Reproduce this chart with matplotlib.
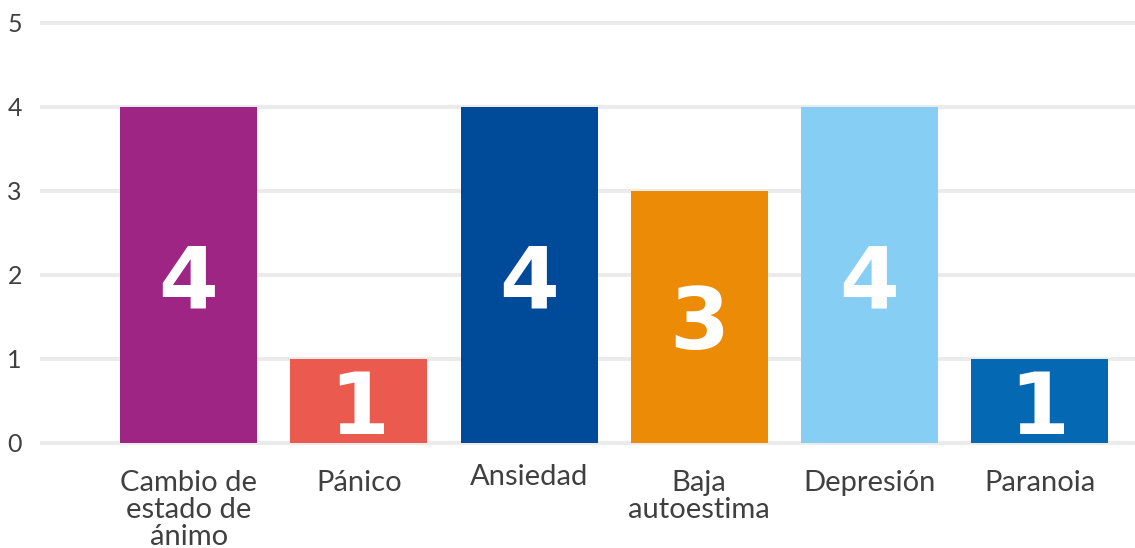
import matplotlib
matplotlib.use("Agg")
import matplotlib.pyplot as plt
import matplotlib.transforms as mtransforms

categories = ["Cambio de\nestado de\nánimo", "Pánico", "Ansiedad", "Baja\nautoestima", "Depresión", "Paranoia"]
values = [4, 1, 4, 3, 4, 1]
colors = ["#9E2583", "#EB5A4E", "#004A9A", "#EC8B05", "#87CEF4", "#0468B2"]
yticks = [0, 1, 2, 3, 4, 5]

plt.rcParams['font.family'] = ['Lato', 'DejaVu Sans']

fig = plt.figure(figsize=(11.35, 5.48), dpi=100)
ax = fig.add_axes([40/1135, 1 - 451.4/548, 1 - 40/1135, (451.4 - 14.6)/548])

x = list(range(len(categories)))
ax.bar(x, values, width=0.805, color=colors, zorder=3)

for xi, v in zip(x, values):
    ax.annotate(str(v), (xi, v / 2), xytext=(0, -23.4), textcoords='offset points',
                ha='center', va='baseline', color='white', fontsize=62, fontweight='bold',
                family='DejaVu Sans', zorder=4)

ax.set_xlim(-0.873, 5.56)
ax.set_ylim(-0.1, 5.1)
ax.set_yticks(yticks)
ax.set_yticklabels([str(t) for t in yticks], fontsize=18, color='#404040')
ax.set_xticks(x)
ax.set_xticklabels(categories, fontsize=21, color='#404040', linespacing=1.05)
ax.tick_params(axis='both', length=0)
ax.tick_params(axis='y', pad=13)
ax.tick_params(axis='x', pad=13.5)

for lab in ax.get_xticklabels():
    if lab.get_text() == "Ansiedad":
        lab.set_transform(lab.get_transform() + mtransforms.ScaledTranslation(0, 6/100, fig.dpi_scale_trans))

for y in yticks:
    ax.axhline(y, color='#EBEBEB', linewidth=2.9, zorder=1, solid_capstyle='round')

for s in ax.spines.values():
    s.set_visible(False)

fig.savefig("out.png", dpi=100)
